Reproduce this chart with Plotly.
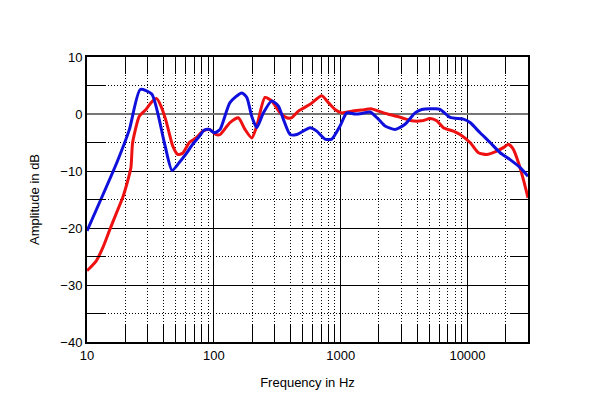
import plotly.graph_objects as go

# Blue trace
blue_freq = [10, 17.2, 21.6, 26.3, 32.4, 40.7, 46.8, 53.4, 60.4, 68.2, 76.9, 84.2, 92.2, 101,
             112, 134, 166, 182, 199, 218, 246, 286, 323, 353, 399, 451, 574, 648, 754, 851,
             989, 1117, 1299, 1467, 1706, 1984, 2240, 2685, 3221, 3862, 4361, 5553, 6080,
             7290, 9284, 10480, 12570, 15080, 18080, 21680, 25990, 30000]
blue_db = [-20.5, -8.5, -2.7, 4.3, 3.5, -5.0, -9.9, -8.5, -7.0, -5.3, -3.9, -2.8, -2.7, -3.3,
           -2.7, 2.0, 3.7, 2.9, -0.4, -2.4, 0.2, 2.3, 1.4, -0.9, -3.6, -3.6, -2.4, -3.0, -4.4, -4.4,
           -2.1, 0.2, 0.0, 0.1, 0.35, -0.9, -2.1, -2.7, -1.8, 0.2, 0.8, 0.9, 0.8,
           -0.6, -0.9, -1.5, -3.3, -5.0, -6.8, -8.0, -9.4, -10.9]

# Red trace
red_freq = [10, 11.8, 13.3, 15.0, 16.9, 19.1, 20.9, 22.2, 22.9, 25.9, 29.2, 32.0, 35.5, 38.3,
            42.0, 47.4, 51.9, 56.8, 64.1, 72.4, 81.8, 92.2, 104, 112, 134, 156, 176, 199, 218,
            253, 286, 333, 376, 412, 464, 574, 710, 800, 903, 1020, 1224, 1467, 1759, 1984,
            2378, 3034, 3637, 4361, 5070, 5727, 6455, 7742, 8741, 10480, 12190, 14200, 17020,
            19190, 21020, 23010, 25200, 27600, 30000]
red_db = [-27.5, -25.8, -23.5, -20.5, -17.6, -14.7, -11.8, -9.4, -5.0, -0.35, 0.8, 2.0, 2.7, 1.4,
          -1.2, -5.6, -7.1, -6.9, -5.0, -4.2, -3.0, -2.7, -3.6, -3.6, -1.5, -0.65, -2.7, -4.2, -2.1,
          2.9, 2.3, 0.2, -0.65, -0.65, 0.5, 1.7, 3.2, 2.0, 0.8, 0.2, 0.5, 0.7, 0.9, 0.5,
          -0.05, -0.65, -1.2, -1.2, -0.8, -1.2, -2.4, -3.0, -3.6, -5.0, -6.8, -7.1, -6.5,
          -5.9, -5.3, -6.2, -8.5, -11.5, -14.7]

x_ticks = [10, 100, 1000, 10000]
x_tick_labels = ["10", "100", "1000", "10000"]
x_minor = [m * d for d in [10, 100, 1000, 10000] for m in range(2, 10) if m * d <= 30000]
y_ticks = [-40, -30, -20, -10, 0, 10]
y_minor = [-35, -25, -15, -5, 5]

fig = go.Figure()
fig.add_trace(go.Scatter(x=red_freq, y=red_db, mode="lines", line_shape="spline",
                         line=dict(color="#ee1111", width=3, smoothing=0.6), showlegend=False))
fig.add_trace(go.Scatter(x=blue_freq, y=blue_db, mode="lines", line_shape="spline",
                         line=dict(color="#1010dd", width=3, smoothing=0.6), showlegend=False))

font = "Liberation Sans, Arial, sans-serif"
fig.update_layout(
    width=600, height=409,
    margin=dict(l=79, r=80, t=49, b=75),
    paper_bgcolor="white", plot_bgcolor="white",
    font=dict(family=font, size=13, color="black"),
    xaxis=dict(
        type="log", range=[1, 4.4771], tickvals=x_ticks, ticktext=x_tick_labels,
        showgrid=True, gridcolor="black", gridwidth=1,
        ticks="", showline=True, linecolor="black", linewidth=2, mirror="allticks",
        minor=dict(tickvals=x_minor, showgrid=True, gridcolor="black", gridwidth=1,
                   griddash="1px,2px", ticks="inside", ticklen=17, tickcolor="black",
                   tickwidth=1),
        title=dict(text="Frequency in Hz", font=dict(size=13), standoff=16),
        tickfont=dict(size=13), zeroline=False,
    ),
    yaxis=dict(
        range=[-40, 10], tickvals=y_ticks,
        showgrid=True, gridcolor="black", gridwidth=1,
        ticks="", showline=True, linecolor="black", linewidth=2, mirror="allticks",
        minor=dict(tickvals=y_minor, showgrid=True, gridcolor="black", gridwidth=1,
                   griddash="1px,2px", ticks="inside", ticklen=18, tickcolor="black",
                   tickwidth=1),
        zeroline=True, zerolinecolor="#777777", zerolinewidth=2,
        title=dict(text="Amplitude in dB", font=dict(size=13), standoff=18),
        tickfont=dict(size=13),
    ),
)
fig.write_html("out.html")
